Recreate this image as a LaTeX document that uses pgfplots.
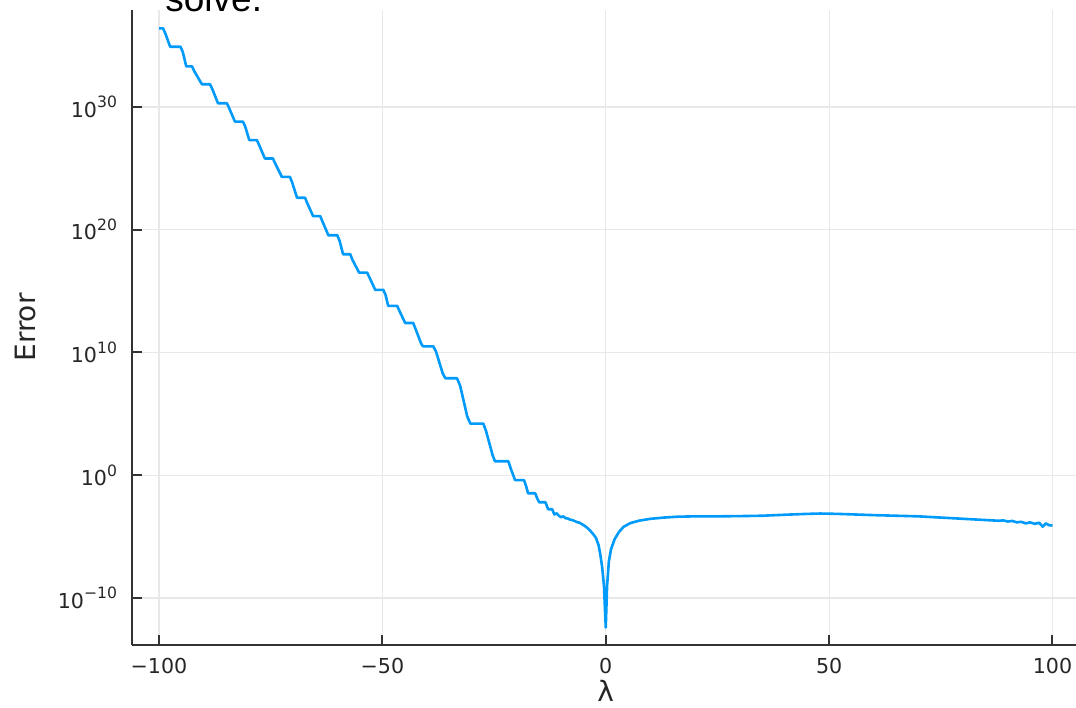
\documentclass[border=0pt]{standalone}
\usepackage{fontspec}
\setmainfont{DejaVu Sans}
\newfontfamily\solvefont{Liberation Sans}
\usepackage{pgfplots}
\pgfplotsset{compat=1.18}
\definecolor{jblue}{RGB}{0,154,250}
\newcommand{\tp}[1]{10\raisebox{0.45em}{\fontsize{7.8pt}{8pt}\selectfont #1}}
\pgfplotstableread{
x y
-100.0 2.51e36
-99.1 2.51e36
-98.6 1.00e36
-97.5 7.94e34
-95.2 7.94e34
-94.7 3.16e34
-93.9 2.00e33
-92.6 2.00e33
-92.1 8.0e32
-90.4 7.08e31
-88.6 7.08e31
-88.1 3.0e31
-86.8 2.00e30
-84.8 2.00e30
-84.3 8.0e29
-83.0 6.31e28
-81.2 6.31e28
-80.7 2.5e28
-79.8 2.00e27
-78.1 2.00e27
-77.6 8.0e26
-76.3 6.31e25
-74.5 6.31e25
-74.0 2.5e25
-72.5 2.00e24
-70.7 2.00e24
-70.2 7.0e23
-69.1 3.98e22
-67.3 3.98e22
-66.8 1.4e22
-65.5 1.26e21
-63.9 1.26e21
-63.4 4.5e20
-62.1 3.55e19
-60.1 3.55e19
-59.6 1.3e19
-58.8 1.00e18
-57.2 1.00e18
-56.7 3.5e17
-55.2 3.16e16
-53.4 3.16e16
-52.9 1.3e16
-51.6 1.26e15
-49.8 1.26e15
-49.3 5.0e14
-48.7 6.31e13
-46.7 6.31e13
-46.2 2.5e13
-44.9 2.51e12
-43.1 2.51e12
-42.5 7.0e11
-41.3 5.0e10
-40.9 3.16e10
-38.6 3.16e10
-38.0 1.2e10
-36.5 2.0e8
-35.9 7.94e7
-33.3 7.94e7
-32.6 2.0e7
-31.0 6.0e4
-30.3 1.58e4
-27.4 1.58e4
-26.8 4.0e3
-25.3 40
-24.8 13.8
-21.8 13.8
-21.2 3.0
-20.3 0.398
-18.3 0.398
-17.8 0.12
-17.4 0.0339
-15.8 0.0339
-15.3 0.012
-14.9 6.31e-3
-13.5 6.31e-3
-12.9 1.70e-3
-12.0 1.70e-3
-11.5 6.31e-4
-11.0 7.94e-4
-10.5 5.01e-4
-10.0 3.80e-4
-9.5 4.47e-4
-9.0 3.16e-4
-8.5 3.02e-4
-8.0 2.40e-4
-7.5 2.24e-4
-7.2 2.00e-4
-6.8 1.78e-4
-6.4 1.48e-4
-5.9 1.38e-4
-5.5 1.12e-4
-4.8 7.94e-5
-4.1 5.01e-5
-3.4 2.82e-5
-2.8 1.58e-5
-2.2 7.94e-6
-1.6 2.00e-6
-1.2 3.16e-7
-0.8 3.16e-8
-0.4 1.00e-9
0.0 3.98e-13
0.3 1.00e-9
0.7 1.00e-7
1.2 1.00e-6
2.0 6.31e-6
3.0 2.51e-5
4.0 6.31e-5
5.5 1.26e-4
7.5 2.00e-4
10 2.82e-4
13 3.55e-4
16 4.17e-4
20 4.47e-4
25 4.47e-4
30 4.68e-4
35 5.01e-4
40 6.03e-4
45 7.08e-4
48 7.59e-4
52 7.08e-4
60 5.62e-4
70 4.47e-4
75 3.55e-4
80 2.82e-4
85 2.24e-4
88 1.95e-4
89 2.10e-4
90 1.70e-4
91 1.90e-4
92 1.45e-4
93 1.60e-4
94 1.20e-4
95 1.45e-4
96 1.10e-4
97 1.35e-4
97.8 6.5e-5
98.5 1.20e-4
99.2 8.5e-5
100 7.94e-5
}\errdata
\begin{document}
\begin{tikzpicture}[x=1pt,y=1pt]
\useasboundingbox (0,0) rectangle (538,353.5);
\node[anchor=base west, inner sep=0pt, font=\solvefont\fontsize{18.5pt}{20pt}\selectfont] at (82.5,347.5) {solve.};
\begin{axis}[
  at={(66pt,31pt)}, anchor=south west,
  scale only axis, width=473.75pt, height=317.5pt,
  xmin=-106.05, xmax=106.05,
  ymode=log, log basis y=10, ymin=1.48e-14, ymax=7.9e37,
  axis x line*=bottom, axis y line*=left,
  axis line style={-, black!80, line width=1pt},
  tick align=inside, major tick length=5pt,
  tick style={black!80, line width=1pt},
  xtick={-100,-50,0,50,100},
  xticklabels={−100,−50,0,50,100},
  ytick={1e-10,1,1e10,1e20,1e30},
  yticklabels={\tp{−10},\tp{0},\tp{10},\tp{20},\tp{30}},
  minor tick num=0,
  ticklabel style={font=\fontsize{10.3pt}{12pt}\selectfont, text=black!85},
  xticklabel style={yshift=-3pt},
  yticklabel style={xshift=-4pt},
  grid=major,
  major grid style={black!9, line width=0.6pt},
  xlabel={λ}, ylabel={Error},
  label style={font=\fontsize{14pt}{16pt}\selectfont, text=black!85},
  xlabel style={at={(axis description cs:0.5,0)}, anchor=center, yshift=-23pt},
  ylabel style={at={(axis description cs:0,0.5)}, anchor=center, yshift=53.5pt},
  clip=true,
]
\addplot[jblue, line width=1.3pt, line join=round] table[x=x,y=y] {\errdata};
\end{axis}
\end{tikzpicture}
\end{document}
